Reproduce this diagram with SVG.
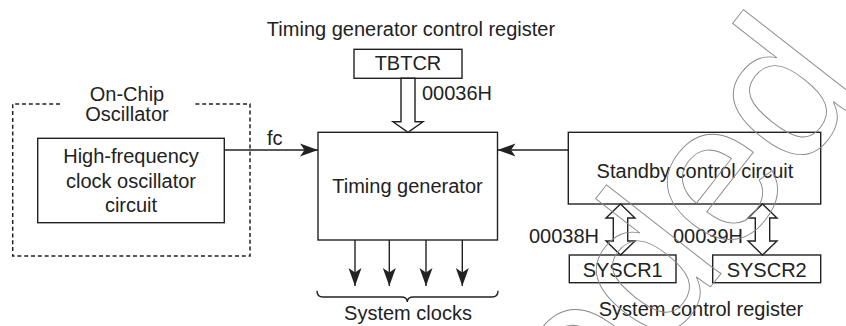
<svg xmlns="http://www.w3.org/2000/svg" width="846" height="326" viewBox="0 0 846 326">
<style>
  .box{fill:#fff;stroke:#222;stroke-width:1.4}
  .t{font-family:"Liberation Sans",Arial,sans-serif;font-size:20px;fill:#222}
  .c{text-anchor:middle}
  .ln{stroke:#222;stroke-width:1.4;fill:none}
  .hollow{fill:#fff;stroke:#222;stroke-width:1.4;stroke-linejoin:miter}
  .wm{font-family:"Liberation Sans",Arial,sans-serif;font-size:200px;fill:none;stroke:#888;stroke-width:0.9}
</style>
<defs>
  <marker id="ah" markerUnits="userSpaceOnUse" markerWidth="20" markerHeight="14" refX="18" refY="7" orient="auto">
    <path d="M18,7 L0,0.5 L4.5,7 L0,13.5 Z" fill="#222"/>
  </marker>
</defs>
<rect width="846" height="326" fill="#fff"/>

<g id="oscillator-group">
  <path d="M60,104 H12.7 V256 H250 V104 H193" fill="none" stroke="#222" stroke-width="1.5" stroke-dasharray="4,2.8"/>
  <text class="t c" x="127" y="101">On-Chip</text>
  <text class="t c" x="127" y="121">Oscillator</text>
</g>
<g id="hf-osc">
  <rect class="box" x="37.7" y="138.3" width="186.6" height="84.4"/>
  <text class="t c" x="131" y="163">High-frequency</text>
  <text class="t c" x="131" y="188">clock oscillator</text>
  <text class="t c" x="131" y="212">circuit</text>
</g>
<g id="tbtcr-title">
  <text class="t c" x="411" y="36">Timing generator control register</text>
</g>
<g id="tbtcr">
  <rect class="box" x="354" y="49.3" width="108" height="29"/>
  <text class="t c" x="408" y="70">TBTCR</text>
</g>
<g id="timing-gen">
  <rect class="box" x="318" y="132.3" width="179.5" height="107.7"/>
  <text class="t c" x="407.5" y="193">Timing generator</text>
</g>
<g id="standby">
  <rect class="box" x="568.3" y="132.3" width="252.4" height="71.7"/>
  <text class="t c" x="695" y="178">Standby control circuit</text>
</g>
<g id="syscr1">
  <rect class="box" x="569.3" y="255" width="106.7" height="27.7"/>
  <text class="t c" x="622.7" y="277">SYSCR1</text>
</g>
<g id="syscr2">
  <rect class="box" x="712.7" y="255" width="108" height="27.7"/>
  <text class="t c" x="766.7" y="277">SYSCR2</text>
</g>
<g id="syscr-title">
  <text class="t c" x="701" y="316">System control register</text>
</g>
<g id="system-clocks">
  <path class="ln" d="M317,290.7 Q317,297 323,297 H401 Q407.3,297 407.3,302 Q407.3,297 413.6,297 H492 Q498,297 498,290.7"/>
  <text class="t c" x="408" y="320">System clocks</text>
</g>

<g id="connectors">
  <line class="ln" x1="224.3" y1="150" x2="318" y2="150" marker-end="url(#ah)"/>
  <text class="t" x="267" y="145">fc</text>
  <line class="ln" x1="568.3" y1="150" x2="497.5" y2="150" marker-end="url(#ah)"/>
  <polygon class="hollow" points="401,78.3 415,78.3 415,121.7 423,121.7 408,132.3 393,121.7 401,121.7"/>
  <text class="t" x="422" y="100">00036H</text>
  <polygon class="hollow" points="620.5,204 635,218 627.7,218 627.7,241 635,241 620.5,255 606,241 613.3,241 613.3,218 606,218"/>
  <text class="t" x="529" y="243">00038H</text>
  <polygon class="hollow" points="762.5,204 777,218 769.7,218 769.7,241 777,241 762.5,255 748,241 755.3,241 755.3,218 748,218"/>
  <text class="t" x="673" y="243">00039H</text>
  <line class="ln" x1="355" y1="240" x2="355" y2="286" marker-end="url(#ah)"/>
  <line class="ln" x1="389.3" y1="240" x2="389.3" y2="286" marker-end="url(#ah)"/>
  <line class="ln" x1="426" y1="240" x2="426" y2="286" marker-end="url(#ah)"/>
  <line class="ln" x1="462.3" y1="240" x2="462.3" y2="286" marker-end="url(#ah)"/>
</g>
<text class="wm" text-anchor="end" transform="translate(866,88) rotate(-52)">Superseded</text>
</svg>
